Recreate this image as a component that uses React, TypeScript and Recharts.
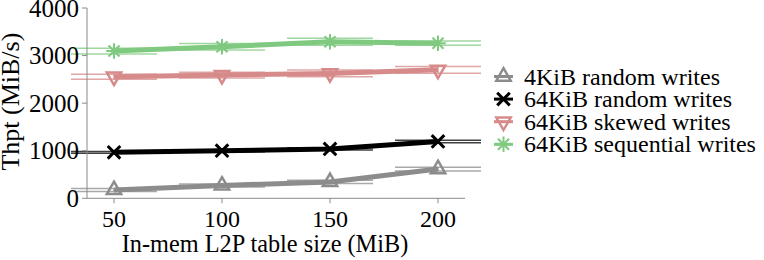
import React from 'react';
import { LineChart, Line, XAxis, YAxis, ErrorBar, Legend, Label } from 'recharts';

const sizes = [50, 100, 150, 200];
const rand4k = [175, 270, 345, 615];
const rand4kErr = [30, 30, 35, 40];
const rand64k = [966, 1000, 1038, 1195];
const rand64kErr = [20, 20, 25, 25];
const skewed = [2555, 2590, 2625, 2700];
const skewedErr = [55, 60, 70, 70];
const sequential = [3095, 3185, 3290, 3260];
const sequentialErr = [60, 70, 75, 45];
const yTicks = [0, 1000, 2000, 3000, 4000];
const xTicks = [50, 100, 150, 200];
const seriesNames = ['4KiB random writes', '64KiB random writes', '64KiB skewed writes', '64KiB sequential writes'];

const FONT = 'Liberation Serif';
const AXIS = '#8a8a8a';

const series = [
  { key: 'rand4k', err: 'rand4kErr', name: seriesNames[0], color: '#8c8c8c', shape: 'up' },
  { key: 'rand64k', err: 'rand64kErr', name: seriesNames[1], color: '#000000', shape: 'x' },
  { key: 'skewed', err: 'skewedErr', name: seriesNames[2], color: '#d68a8a', shape: 'down' },
  { key: 'sequential', err: 'sequentialErr', name: seriesNames[3], color: '#80c980', shape: 'star' },
];

const data = sizes.map((s, i) => ({
  size: s,
  rand4k: rand4k[i],
  rand4kErr: rand4kErr[i],
  rand64k: rand64k[i],
  rand64kErr: rand64kErr[i],
  skewed: skewed[i],
  skewedErr: skewedErr[i],
  sequential: sequential[i],
  sequentialErr: sequentialErr[i],
}));

function Marker({ shape, cx, cy, color }: { shape: string; cx: number; cy: number; color: string }) {
  if (shape === 'up' || shape === 'down') {
    const r = 8.3;
    const h = r * 0.866;
    const d =
      shape === 'up'
        ? `M${cx},${cy - r}L${cx + h},${cy + r / 2}L${cx - h},${cy + r / 2}Z`
        : `M${cx},${cy + r}L${cx + h},${cy - r / 2}L${cx - h},${cy - r / 2}Z`;
    return <path d={d} fill="none" stroke={color} strokeWidth={2.5} />;
  }
  if (shape === 'x') {
    const s = 6.3;
    return (
      <path
        d={`M${cx - s},${cy - s}L${cx + s},${cy + s}M${cx - s},${cy + s}L${cx + s},${cy - s}`}
        fill="none"
        stroke={color}
        strokeWidth={3}
      />
    );
  }
  const a = 7.8;
  const b = a * 0.707;
  return (
    <path
      d={`M${cx},${cy - a}L${cx},${cy + a}M${cx - a},${cy}L${cx + a},${cy}M${cx - b},${cy - b}L${cx + b},${cy + b}M${cx - b},${cy + b}L${cx + b},${cy - b}`}
      fill="none"
      stroke={color}
      strokeWidth={2}
    />
  );
}

const makeDot = (shape: string, color: string) => (props: any) => {
  const { cx, cy, index } = props;
  if (cx == null || cy == null) return <g key={`${shape}-${index}`} />;
  return <Marker key={`${shape}-${index}`} shape={shape} cx={cx} cy={cy} color={color} />;
};

const YTick = (props: any) => (
  <text x={props.x - 1} y={props.y} dy={8.5} textAnchor="end" style={{ fontSize: '25px', fontFamily: FONT }} fill="#000">
    {props.payload.value}
  </text>
);

const XTick = (props: any) => (
  <text x={props.x} y={props.y} dy={21.2} textAnchor="middle" style={{ fontSize: '24px', fontFamily: FONT }} fill="#000">
    {props.payload.value}
  </text>
);

const XTitle = (props: any) => {
  const vb = props.viewBox || { x: 87, y: 198, width: 378, height: 62 };
  return (
    <text x={vb.x + vb.width / 2 - 11} y={vb.y + 53.5} textAnchor="middle" style={{ fontSize: '24.3px', fontFamily: FONT }} fill="#000">
      In-mem L2P table size (MiB)
    </text>
  );
};

const YTitle = (props: any) => {
  const vb = props.viewBox || { x: 0, y: 8, width: 87, height: 190 };
  const cx = 19;
  const cy = vb.y + vb.height / 2 - 1.5;
  return (
    <text
      x={cx}
      y={cy}
      transform={`rotate(-90, ${cx}, ${cy})`}
      textAnchor="middle"
      style={{ fontSize: '26px', fontFamily: FONT }}
      fill="#000"
    >
      Thpt (MiB/s)
    </text>
  );
};

const renderLegend = () => (
  <svg width={276} height={110} style={{ display: 'block', overflow: 'visible' }}>
    {series.map((s, i) => {
      const base = 24.5 + 22.6 * i;
      const cy = base - 8;
      return (
        <g key={s.key}>
          <line x1={6} x2={25} y1={cy} y2={cy} stroke={s.color} strokeWidth={3} />
          <Marker shape={s.shape} cx={15.5} cy={cy} color={s.color} />
          <text x={36} y={base} style={{ fontSize: '24px', fontFamily: FONT }} fill="#000">
            {s.name}
          </text>
        </g>
      );
    })}
  </svg>
);

export default function App() {
  return (
    <div style={{ position: 'absolute', left: 0, top: 0, width: 764, height: 260, background: '#fff' }}>
      <LineChart width={764} height={260} data={data} margin={{ top: 8, right: 299, bottom: 0, left: 0 }}>
        <XAxis
          dataKey="size"
          type="number"
          domain={[37.5, 212.5]}
          ticks={xTicks}
          height={61.7}
          stroke={AXIS}
          tickLine={{ stroke: AXIS }}
          tickSize={5}
          tick={<XTick />}
          interval={0}
        >
          <Label content={<XTitle />} />
        </XAxis>
        <YAxis
          type="number"
          domain={[0, 4000]}
          ticks={yTicks}
          width={87}
          stroke={AXIS}
          tickLine={{ stroke: AXIS }}
          tickSize={5}
          tick={<YTick />}
          interval={0}
        >
          <Label content={<YTitle />} />
        </YAxis>
        {series.map((s) => (
          <Line
            key={s.key}
            dataKey={s.key}
            type="linear"
            stroke={s.color}
            strokeWidth={5}
            dot={makeDot(s.shape, s.color)}
            activeDot={false}
            isAnimationActive={false}
          >
            <ErrorBar dataKey={s.err} direction="y" width={43} stroke={s.color} strokeWidth={1.5} strokeOpacity={0.75} />
          </Line>
        ))}
        <Legend
          layout="vertical"
          align="center"
          verticalAlign="middle"
          wrapperStyle={{ left: 488, top: 60, width: 276 }}
          content={renderLegend}
        />
      </LineChart>
    </div>
  );
}
